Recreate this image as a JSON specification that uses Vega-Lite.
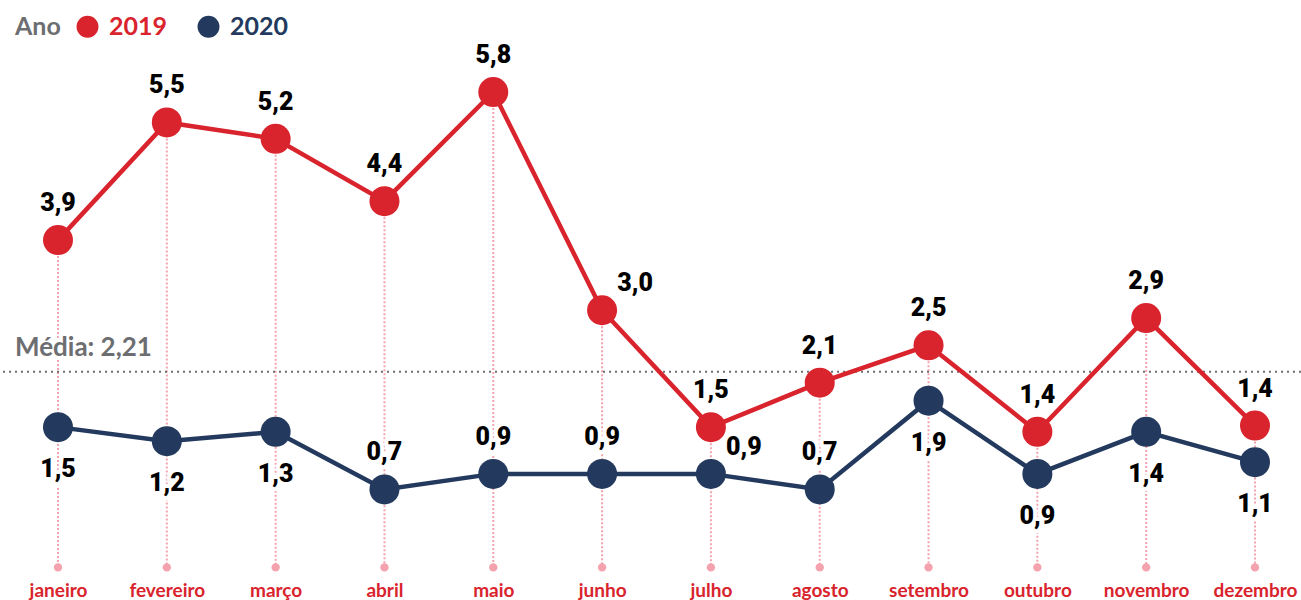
{
  "$schema": "https://vega.github.io/schema/vega-lite/v6.json",
  "width": 1301,
  "height": 578,
  "autosize": {"type": "none"},
  "padding": {"left": 0, "top": 0, "right": 0, "bottom": 22},
  "background": "white",
  "config": {
    "view": {"stroke": null},
    "locale": {"number": {"decimal": ",", "thousands": ".", "grouping": [3], "currency": ["R$", ""]}},
    "font": "Lato"
  },
  "resolve": {"legend": {"color": "independent"}},
  "datasets": {
    "dados": [
      {"mes": "janeiro", "ano": "2019", "valor": 3.9, "rotulo": 3.9, "pos": "acima"},
      {"mes": "fevereiro", "ano": "2019", "valor": 5.41, "rotulo": 5.5, "pos": "acima"},
      {"mes": "março", "ano": "2019", "valor": 5.2, "rotulo": 5.2, "pos": "acima"},
      {"mes": "abril", "ano": "2019", "valor": 4.4, "rotulo": 4.4, "pos": "acima"},
      {"mes": "maio", "ano": "2019", "valor": 5.8, "rotulo": 5.8, "pos": "acima"},
      {"mes": "junho", "ano": "2019", "valor": 3.0, "rotulo": 3.0, "pos": "direita"},
      {"mes": "julho", "ano": "2019", "valor": 1.5, "rotulo": 1.5, "pos": "acima"},
      {"mes": "agosto", "ano": "2019", "valor": 2.07, "rotulo": 2.1, "pos": "acima"},
      {"mes": "setembro", "ano": "2019", "valor": 2.55, "rotulo": 2.5, "pos": "acima"},
      {"mes": "outubro", "ano": "2019", "valor": 1.44, "rotulo": 1.4, "pos": "acima"},
      {"mes": "novembro", "ano": "2019", "valor": 2.9, "rotulo": 2.9, "pos": "acima"},
      {"mes": "dezembro", "ano": "2019", "valor": 1.52, "rotulo": 1.4, "pos": "acima"},
      {"mes": "janeiro", "ano": "2020", "valor": 1.5, "rotulo": 1.5, "pos": "abaixo"},
      {"mes": "fevereiro", "ano": "2020", "valor": 1.32, "rotulo": 1.2, "pos": "abaixo"},
      {"mes": "março", "ano": "2020", "valor": 1.44, "rotulo": 1.3, "pos": "abaixo"},
      {"mes": "abril", "ano": "2020", "valor": 0.7, "rotulo": 0.7, "pos": "acima"},
      {"mes": "maio", "ano": "2020", "valor": 0.9, "rotulo": 0.9, "pos": "acima"},
      {"mes": "junho", "ano": "2020", "valor": 0.9, "rotulo": 0.9, "pos": "acima"},
      {"mes": "julho", "ano": "2020", "valor": 0.9, "rotulo": 0.9, "pos": "direita"},
      {"mes": "agosto", "ano": "2020", "valor": 0.7, "rotulo": 0.7, "pos": "acima"},
      {"mes": "setembro", "ano": "2020", "valor": 1.84, "rotulo": 1.9, "pos": "abaixo"},
      {"mes": "outubro", "ano": "2020", "valor": 0.9, "rotulo": 0.9, "pos": "abaixo"},
      {"mes": "novembro", "ano": "2020", "valor": 1.44, "rotulo": 1.4, "pos": "abaixo"},
      {"mes": "dezembro", "ano": "2020", "valor": 1.05, "rotulo": 1.1, "pos": "abaixo"}
    ],
    "media": [{"media": 2.21, "mes": "janeiro", "rotulo": "Média: 2,21"}]
  },
  "layer": [
    {
      "data": {"name": "dados"},
      "transform": [{"aggregate": [{"op": "max", "field": "valor", "as": "topo"}], "groupby": ["mes"]}],
      "mark": {"type": "rule", "color": "#f4a3ae", "strokeWidth": 2, "strokeDash": [2, 2]},
      "encoding": {
        "x": {"field": "mes", "type": "ordinal", "sort": ["janeiro","fevereiro","março","abril","maio","junho","julho","agosto","setembro","outubro","novembro","dezembro"], "scale": {"type": "point", "range": [58, 1255], "padding": 0}, "axis": {"title": null, "domain": false, "ticks": false, "grid": false, "labelAngle": 0, "labelColor": "#d9232d", "labelFont": "Lato", "labelFontSize": 19, "labelFontWeight": "bold", "labelPadding": 3}},
        "y": {"field": "topo", "type": "quantitative", "scale": {"domain": [-0.436, 6.981], "nice": false, "zero": false}, "axis": null},
        "y2": {"datum": -0.3}
      }
    },
    {
      "data": {"name": "dados"},
      "transform": [{"filter": "datum.ano === '2019'"}],
      "mark": {"type": "point", "filled": true, "opacity": 1, "color": "#f4a3ae", "size": 70},
      "encoding": {
        "x": {"field": "mes", "type": "ordinal", "sort": ["janeiro","fevereiro","março","abril","maio","junho","julho","agosto","setembro","outubro","novembro","dezembro"]},
        "y": {"datum": -0.3}
      }
    },
    {
      "data": {"name": "media"},
      "mark": {"type": "rule", "color": "#6d6e71", "strokeWidth": 2, "strokeDash": [2, 4]},
      "encoding": {
        "y": {"field": "media", "type": "quantitative"}
      }
    },
    {
      "data": {"name": "media"},
      "mark": {"type": "text", "align": "left", "baseline": "alphabetic", "dx": -43, "dy": -16, "fontSize": 26, "fontWeight": "bold", "color": "#6d6e71", "stroke": "white", "strokeWidth": 8, "strokeJoin": "round"},
      "encoding": {
        "x": {"field": "mes", "type": "ordinal", "sort": ["janeiro","fevereiro","março","abril","maio","junho","julho","agosto","setembro","outubro","novembro","dezembro"]},
        "y": {"field": "media", "type": "quantitative"},
        "text": {"field": "rotulo"}
      }
    },
    {
      "data": {"name": "media"},
      "mark": {"type": "text", "align": "left", "baseline": "alphabetic", "dx": -43, "dy": -16, "fontSize": 26, "fontWeight": "bold", "color": "#6d6e71"},
      "encoding": {
        "x": {"field": "mes", "type": "ordinal", "sort": ["janeiro","fevereiro","março","abril","maio","junho","julho","agosto","setembro","outubro","novembro","dezembro"]},
        "y": {"field": "media", "type": "quantitative"},
        "text": {"field": "rotulo"}
      }
    },
    {
      "data": {"name": "dados"},
      "mark": {"type": "line", "strokeWidth": 4.5},
      "encoding": {
        "x": {"field": "mes", "type": "ordinal", "sort": ["janeiro","fevereiro","março","abril","maio","junho","julho","agosto","setembro","outubro","novembro","dezembro"]},
        "y": {"field": "valor", "type": "quantitative"},
        "color": {"field": "ano", "type": "nominal", "scale": {"domain": ["2019", "2020"], "range": ["#d9232d", "#233a5e"]}, "legend": null}
      }
    },
    {
      "data": {"name": "dados"},
      "mark": {"type": "point", "filled": true, "opacity": 1, "size": 900, "shape": "circle"},
      "encoding": {
        "x": {"field": "mes", "type": "ordinal", "sort": ["janeiro","fevereiro","março","abril","maio","junho","julho","agosto","setembro","outubro","novembro","dezembro"]},
        "y": {"field": "valor", "type": "quantitative"},
        "color": {"field": "ano", "type": "nominal", "scale": {"domain": ["2019", "2020"], "range": ["#d9232d", "#233a5e"]},
          "legend": {"orient": "none", "legendX": 15, "legendY": 14, "direction": "horizontal", "title": "Ano", "titleOrient": "left", "titleFontSize": 25, "titleColor": "#6d6e71", "titleFont": "Lato", "titleFontWeight": "bold", "titlePadding": 14, "labelFontSize": 25, "labelFont": "Lato", "labelFontWeight": "bold", "symbolType": "circle", "symbolSize": 480, "symbolStrokeWidth": 0, "symbolOpacity": 1, "columnPadding": 28, "labelOffset": 9,
            "encode": {"labels": {"update": {"fill": {"signal": "datum.value === '2019' ? '#d9232d' : '#233a5e'"}}}}}}
      }
    },
    {
      "data": {"name": "dados"},
      "transform": [{"filter": "datum.pos === 'acima'"}],
      "mark": {"type": "text", "baseline": "middle", "dy": -37, "fontSize": 25, "font": "Roboto", "fontWeight": 900, "color": "black", "stroke": "white", "strokeWidth": 8, "strokeJoin": "round"},
      "encoding": {
        "x": {"field": "mes", "type": "ordinal", "sort": ["janeiro","fevereiro","março","abril","maio","junho","julho","agosto","setembro","outubro","novembro","dezembro"]},
        "y": {"field": "valor", "type": "quantitative"},
        "text": {"field": "rotulo", "type": "quantitative", "format": ".1f"}
      }
    },
    {
      "data": {"name": "dados"},
      "transform": [{"filter": "datum.pos === 'acima'"}],
      "mark": {"type": "text", "baseline": "middle", "dy": -37, "fontSize": 25, "font": "Roboto", "fontWeight": 900, "color": "black"},
      "encoding": {
        "x": {"field": "mes", "type": "ordinal", "sort": ["janeiro","fevereiro","março","abril","maio","junho","julho","agosto","setembro","outubro","novembro","dezembro"]},
        "y": {"field": "valor", "type": "quantitative"},
        "text": {"field": "rotulo", "type": "quantitative", "format": ".1f"}
      }
    },
    {
      "data": {"name": "dados"},
      "transform": [{"filter": "datum.pos === 'abaixo'"}],
      "mark": {"type": "text", "baseline": "middle", "dy": 42, "fontSize": 25, "font": "Roboto", "fontWeight": 900, "color": "black", "stroke": "white", "strokeWidth": 8, "strokeJoin": "round"},
      "encoding": {
        "x": {"field": "mes", "type": "ordinal", "sort": ["janeiro","fevereiro","março","abril","maio","junho","julho","agosto","setembro","outubro","novembro","dezembro"]},
        "y": {"field": "valor", "type": "quantitative"},
        "text": {"field": "rotulo", "type": "quantitative", "format": ".1f"}
      }
    },
    {
      "data": {"name": "dados"},
      "transform": [{"filter": "datum.pos === 'abaixo'"}],
      "mark": {"type": "text", "baseline": "middle", "dy": 42, "fontSize": 25, "font": "Roboto", "fontWeight": 900, "color": "black"},
      "encoding": {
        "x": {"field": "mes", "type": "ordinal", "sort": ["janeiro","fevereiro","março","abril","maio","junho","julho","agosto","setembro","outubro","novembro","dezembro"]},
        "y": {"field": "valor", "type": "quantitative"},
        "text": {"field": "rotulo", "type": "quantitative", "format": ".1f"}
      }
    },
    {
      "data": {"name": "dados"},
      "transform": [{"filter": "datum.pos === 'direita'"}],
      "mark": {"type": "text", "baseline": "middle", "dx": 33, "dy": -27, "fontSize": 25, "font": "Roboto", "fontWeight": 900, "color": "black", "stroke": "white", "strokeWidth": 8, "strokeJoin": "round"},
      "encoding": {
        "x": {"field": "mes", "type": "ordinal", "sort": ["janeiro","fevereiro","março","abril","maio","junho","julho","agosto","setembro","outubro","novembro","dezembro"]},
        "y": {"field": "valor", "type": "quantitative"},
        "text": {"field": "rotulo", "type": "quantitative", "format": ".1f"}
      }
    },
    {
      "data": {"name": "dados"},
      "transform": [{"filter": "datum.pos === 'direita'"}],
      "mark": {"type": "text", "baseline": "middle", "dx": 33, "dy": -27, "fontSize": 25, "font": "Roboto", "fontWeight": 900, "color": "black"},
      "encoding": {
        "x": {"field": "mes", "type": "ordinal", "sort": ["janeiro","fevereiro","março","abril","maio","junho","julho","agosto","setembro","outubro","novembro","dezembro"]},
        "y": {"field": "valor", "type": "quantitative"},
        "text": {"field": "rotulo", "type": "quantitative", "format": ".1f"}
      }
    }
  ]
}
